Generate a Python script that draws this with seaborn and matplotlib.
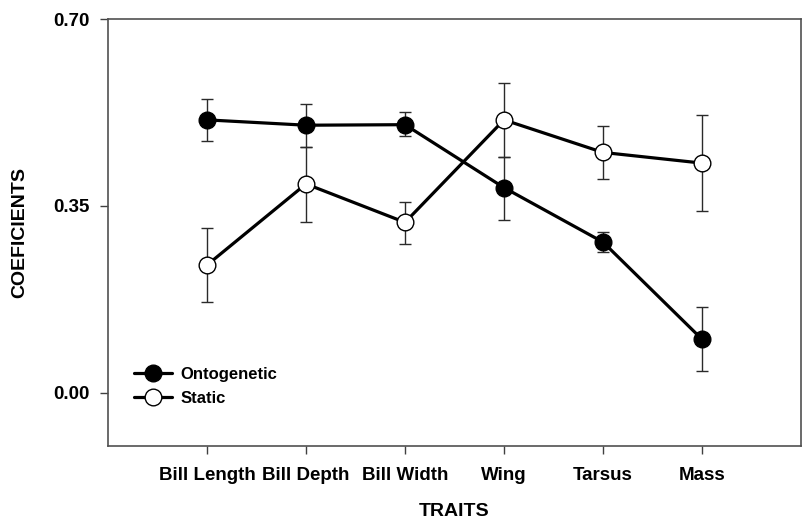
import numpy as np
import pandas as pd
import matplotlib
matplotlib.use("Agg")
import matplotlib.pyplot as plt
from matplotlib.lines import Line2D
import seaborn as sns

traits = ["Bill Length", "Bill Depth", "Bill Width", "Wing", "Tarsus", "Mass"]
onto_vals = [0.511, 0.501, 0.502, 0.384, 0.282, 0.100]
onto_lo = [0.040, 0.040, 0.021, 0.061, 0.019, 0.059]
onto_hi = [0.040, 0.039, 0.023, 0.058, 0.019, 0.061]
static_vals = [0.239, 0.391, 0.319, 0.511, 0.450, 0.430]
static_lo = [0.070, 0.071, 0.041, 0.069, 0.050, 0.090]
static_hi = [0.070, 0.069, 0.038, 0.069, 0.050, 0.090]
yticks = [0.00, 0.35, 0.70]
series_names = ["Ontogenetic", "Static"]

sns.set_theme(style="ticks")
plt.rcParams["font.family"] = ["Liberation Sans", "DejaVu Sans"]
plt.rcParams["font.weight"] = "bold"
plt.rcParams["text.color"] = "black"
plt.rcParams["axes.labelcolor"] = "black"
plt.rcParams["xtick.labelcolor"] = "black"
plt.rcParams["ytick.labelcolor"] = "black"

pos = np.arange(len(traits))
df = pd.DataFrame({
    "pos": np.concatenate([pos, pos]),
    "value": onto_vals + static_vals,
    "series": [series_names[0]] * len(traits) + [series_names[1]] * len(traits),
})

fig = plt.figure(figsize=(8.02, 5.19), dpi=100)
ax = fig.add_axes([108 / 802, 1 - 446 / 519, 693 / 802, 427 / 519])

ax.errorbar(pos, onto_vals, yerr=[onto_lo, onto_hi], fmt="none", ecolor="#2a2a2a",
            elinewidth=1.0, capsize=4, capthick=1.0, zorder=1)
ax.errorbar(pos, static_vals, yerr=[static_lo, static_hi], fmt="none", ecolor="#2a2a2a",
            elinewidth=1.0, capsize=4, capthick=1.0, zorder=1)

sns.lineplot(data=df[df.series == series_names[0]], x="pos", y="value", ax=ax,
             color="black", marker="o", markersize=12, markerfacecolor="black",
             markeredgecolor="black", markeredgewidth=1.0, linewidth=2.3, zorder=3,
             legend=False)
sns.lineplot(data=df[df.series == series_names[1]], x="pos", y="value", ax=ax,
             color="black", marker="o", markersize=12, markerfacecolor="white",
             markeredgecolor="black", markeredgewidth=1.0, linewidth=2.3, zorder=4,
             legend=False)

ax.set_xlim(-1, 6)
ax.set_ylim(-0.1, 0.7)
ax.set_xticks(pos)
ax.set_xticklabels(traits, fontsize=13.5, fontweight="bold", color="black")
ax.set_yticks(yticks)
ax.set_yticklabels([f"{v:.2f}" for v in yticks], fontsize=13.5, fontweight="bold", color="black")
ax.tick_params(axis="both", direction="out", length=6, width=1, color="#404040")
ax.tick_params(axis="x", pad=9)
ax.tick_params(axis="y", pad=7)
for s in ax.spines.values():
    s.set_color("#505050")
    s.set_linewidth(1.2)
    s.set_visible(True)

ax.set_xlabel("TRAITS", fontsize=14, fontweight="bold", labelpad=14, color="black")
ax.set_ylabel("COEFICIENTS", fontsize=14, fontweight="bold", labelpad=18, color="black")

handles = [
    Line2D([], [], color="black", lw=2.3, marker="o", markersize=12,
           markerfacecolor="black", markeredgecolor="black"),
    Line2D([], [], color="black", lw=2.3, marker="o", markersize=12,
           markerfacecolor="white", markeredgecolor="black"),
]
leg = ax.legend(handles, series_names, loc="center left", bbox_to_anchor=(0.0375, 0.14),
                frameon=False, borderpad=0, borderaxespad=0, handlelength=2.3,
                handletextpad=0.5, labelspacing=0.55,
                prop={"size": 12, "weight": "bold"})
for t in leg.get_texts():
    t.set_color("black")

fig.savefig("out.png", dpi=100)
